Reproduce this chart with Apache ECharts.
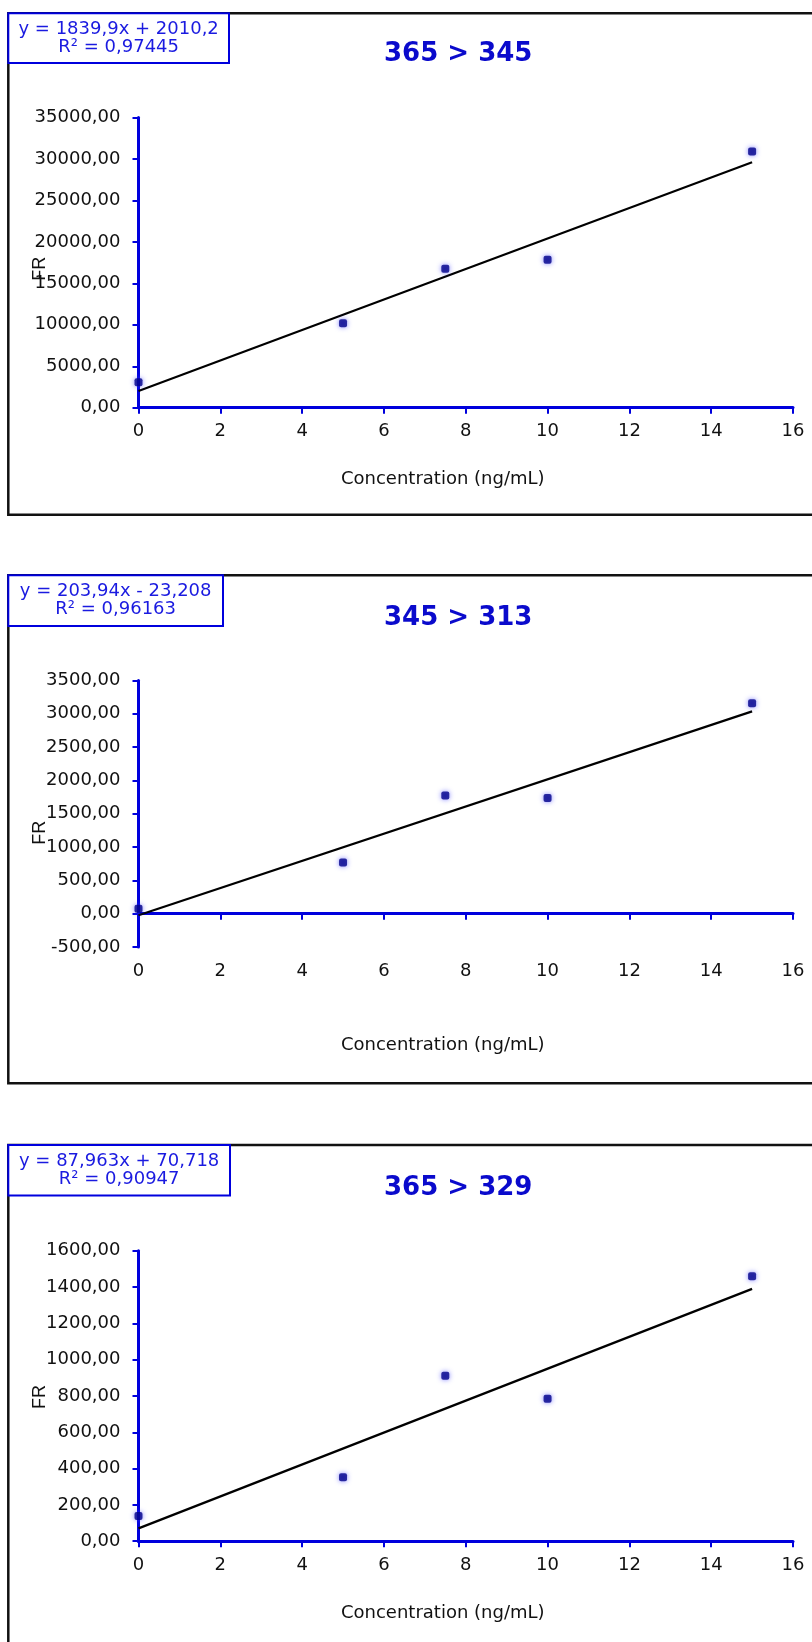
<!DOCTYPE html>
<html>
<head>
<meta charset="utf-8">
<script src="https://cdn.jsdelivr.net/npm/echarts@6/dist/echarts.min.js"></script>
<style>
html,body{margin:0;padding:0;background:#fff;}
#c{width:812px;height:1642px;}
</style>
</head>
<body>
<div id="c"></div>
<script>
// ---- data ----
const concentration = [0, 5, 7.5, 10, 15];
const fr365_345 = [3070, 10190, 16750, 17840, 30920];
const fr345_313 = [75, 766, 1772, 1736, 3158];
const fr365_329 = [139, 352, 912, 785, 1460];

const trendX = [0, 15];
const trend365_345 = [2010.2, 29608.7];
const trend345_313 = [-23.2, 3035.9];
const trend365_329 = [70.7, 1390.2];

const titles = ['365 > 345', '345 > 313', '365 > 329'];
const equations = ['y = 1839,9x + 2010,2', 'y = 203,94x - 23,208', 'y = 87,963x + 70,718'];
const rSquared = ['R² = 0,97445', 'R² = 0,96163', 'R² = 0,90947'];

const xMin = 0, xMax = 16, xStep = 2;
const yMins = [0, -500, 0];
const yMaxs = [35000, 3500, 1600];
const ySteps = [5000, 500, 200];

const xName = 'Concentration (ng/mL)';
const yName = 'FR';

// ---- layout ----
const BLUE = '#0000dd';
const layout = [
  {top: 117.6, height: 290.1, frameTop: 13.3, frameH: 501.5, boxR: 229, boxB: 63, titleTop: 41, xGap: 63, fr: 12},
  {top: 680.4, height: 266.6, frameTop: 575.3, frameH: 508, boxR: 223, boxB: 626, titleTop: 605, xGap: 89, fr: 38},
  {top: 1250.8, height: 290.4, frameTop: 1145, frameH: 600, boxR: 230, boxB: 1195.5, titleTop: 1175, xGap: 63, fr: 2}
];
const seriesVals = [fr365_345, fr345_313, fr365_329];
const trendVals = [trend365_345, trend345_313, trend365_329];

const grids = [], xAxes = [], yAxes = [], series = [], title = [], graphic = [];
const fmt = v => v.toFixed(2).replace('.', ',');

layout.forEach((L, i) => {
  graphic.push({
    type: 'rect', z: 0, silent: true,
    shape: {x: 8.3, y: L.frameTop, width: 900, height: L.frameH},
    style: {fill: '#fff', stroke: '#111', lineWidth: 2.5}
  });
  graphic.push({
    type: 'rect', z: 1, silent: true,
    shape: {x: 8.3, y: L.frameTop, width: L.boxR - 8.3, height: L.boxB - L.frameTop},
    style: {fill: '#fff', stroke: BLUE, lineWidth: 2}
  });
  graphic.push({
    type: 'text', z: 2, silent: true,
    x: (8.3 + L.boxR) / 2, y: (L.frameTop + L.boxB) / 2,
    style: {
      text: equations[i] + '\n' + rSquared[i],
      fill: '#1a1ae0', font: '18px "DejaVu Sans"', lineHeight: 18,
      align: 'center', verticalAlign: 'middle'
    }
  });
  title.push({
    text: titles[i], left: 384, top: L.titleTop, padding: 0,
    textStyle: {color: '#0a0acc', fontFamily: 'DejaVu Sans', fontWeight: 'bold', fontSize: 26}
  });
  grids.push({left: 138.5, width: 654.5, top: L.top, height: L.height, containLabel: false});
  xAxes.push({
    type: 'value', gridIndex: i, min: xMin, max: xMax, interval: xStep,
    name: xName, nameLocation: 'middle', nameGap: L.xGap, nameMoveOverlap: false,
    nameTextStyle: {fontFamily: 'DejaVu Sans', fontSize: 18, color: '#111', padding: [0, 46, 0, 0]},
    axisLine: {onZero: true, lineStyle: {color: BLUE, width: 3}},
    axisTick: {show: true, length: 6, lineStyle: {color: BLUE, width: 2}},
    axisLabel: {fontFamily: 'DejaVu Sans', fontSize: 18, color: '#111', margin: 15, showMaxLabel: true},
    splitLine: {show: false}
  });
  yAxes.push({
    type: 'value', gridIndex: i, min: yMins[i], max: yMaxs[i], interval: ySteps[i],
    name: yName, nameLocation: 'middle', nameGap: 89, nameMoveOverlap: false,
    nameTextStyle: {fontFamily: 'Liberation Sans', fontSize: 18, color: '#111', padding: [0, L.fr, 0, 0]},
    axisLine: {show: true, lineStyle: {color: BLUE, width: 3}},
    axisTick: {show: true, length: 6, lineStyle: {color: BLUE, width: 2}},
    axisLabel: {fontFamily: 'DejaVu Sans', fontSize: 18, color: '#111', margin: 18, formatter: fmt},
    splitLine: {show: false}
  });
  series.push({
    type: 'line', xAxisIndex: i, yAxisIndex: i, z: 3,
    data: trendX.map((x, k) => [x, trendVals[i][k]]),
    showSymbol: false, symbol: 'none', silent: true,
    lineStyle: {color: '#000', width: 2.2}
  });
  series.push({
    type: 'scatter', xAxisIndex: i, yAxisIndex: i, z: 4,
    data: concentration.map((x, k) => [x, seriesVals[i][k]]),
    symbol: 'roundRect', symbolSize: 8,
    itemStyle: {color: '#000088', shadowBlur: 5, shadowColor: 'rgba(60,60,255,0.8)'}
  });
});

const chart = echarts.init(document.getElementById('c'), null, {renderer: 'canvas'});
chart.setOption({
  animation: false,
  backgroundColor: '#fff',
  title, grid: grids, xAxis: xAxes, yAxis: yAxes, series, graphic
});
</script>
</body>
</html>
